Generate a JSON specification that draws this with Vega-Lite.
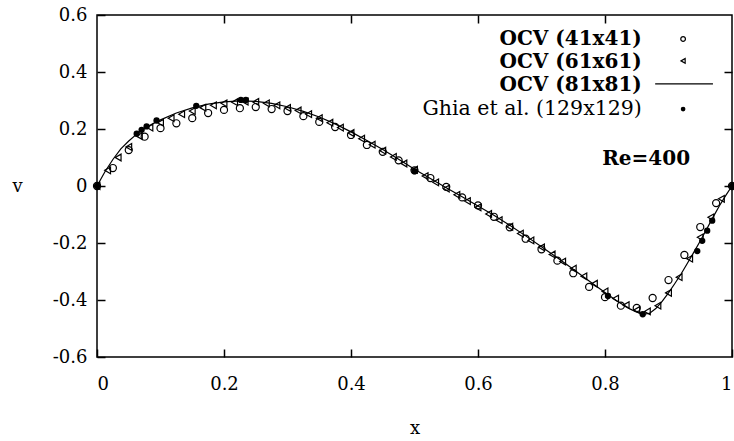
{
  "$schema": "https://vega.github.io/schema/vega-lite/v6.json",
  "width": 635,
  "height": 342,
  "autosize": "none",
  "padding": {"left": 97, "top": 15, "right": 2, "bottom": 84},
  "background": "white",
  "config": {
    "font": "DejaVu Serif",
    "view": {"stroke": "black", "strokeWidth": 1.5},
    "axis": {
      "domain": false,
      "grid": false,
      "labelFont": "DejaVu Serif",
      "labelFontSize": 18,
      "labelColor": "black",
      "titleFont": "DejaVu Serif",
      "titleFontSize": 18,
      "titleFontWeight": "normal",
      "titleColor": "black"
    }
  },
  "datasets": {
    "one": [{"k": 1}],
    "line81": [
      {"x": 0, "v": 0}, {"x": 0.0125, "v": 0.05}, {"x": 0.025, "v": 0.093}, {"x": 0.0375, "v": 0.13},
      {"x": 0.05, "v": 0.158}, {"x": 0.0625, "v": 0.182}, {"x": 0.075, "v": 0.202}, {"x": 0.0875, "v": 0.218},
      {"x": 0.1, "v": 0.232}, {"x": 0.125, "v": 0.256}, {"x": 0.15, "v": 0.274}, {"x": 0.175, "v": 0.287},
      {"x": 0.2, "v": 0.295}, {"x": 0.225, "v": 0.299}, {"x": 0.25, "v": 0.297}, {"x": 0.275, "v": 0.29},
      {"x": 0.3, "v": 0.278}, {"x": 0.325, "v": 0.262}, {"x": 0.35, "v": 0.242}, {"x": 0.375, "v": 0.218},
      {"x": 0.4, "v": 0.19}, {"x": 0.425, "v": 0.16}, {"x": 0.45, "v": 0.128}, {"x": 0.475, "v": 0.094},
      {"x": 0.5, "v": 0.059}, {"x": 0.525, "v": 0.026}, {"x": 0.55, "v": -0.006}, {"x": 0.575, "v": -0.038},
      {"x": 0.6, "v": -0.07}, {"x": 0.625, "v": -0.103}, {"x": 0.65, "v": -0.138}, {"x": 0.675, "v": -0.175},
      {"x": 0.7, "v": -0.213}, {"x": 0.725, "v": -0.252}, {"x": 0.75, "v": -0.292}, {"x": 0.775, "v": -0.333},
      {"x": 0.8, "v": -0.374}, {"x": 0.82, "v": -0.405}, {"x": 0.84, "v": -0.432}, {"x": 0.85, "v": -0.443},
      {"x": 0.86, "v": -0.45}, {"x": 0.87, "v": -0.447}, {"x": 0.88, "v": -0.43}, {"x": 0.89, "v": -0.405},
      {"x": 0.9, "v": -0.375}, {"x": 0.91, "v": -0.342}, {"x": 0.92, "v": -0.308}, {"x": 0.93, "v": -0.27},
      {"x": 0.94, "v": -0.232}, {"x": 0.95, "v": -0.193}, {"x": 0.96, "v": -0.152}, {"x": 0.97, "v": -0.11},
      {"x": 0.98, "v": -0.07}, {"x": 0.99, "v": -0.034}, {"x": 1, "v": 0}
    ],
    "ocv41": [
      {"x": 0, "v": 0}, {"x": 0.025, "v": 0.063}, {"x": 0.05, "v": 0.126}, {"x": 0.075, "v": 0.173},
      {"x": 0.1, "v": 0.203}, {"x": 0.125, "v": 0.22}, {"x": 0.15, "v": 0.238}, {"x": 0.175, "v": 0.256},
      {"x": 0.2, "v": 0.267}, {"x": 0.225, "v": 0.273}, {"x": 0.25, "v": 0.277}, {"x": 0.275, "v": 0.27},
      {"x": 0.3, "v": 0.263}, {"x": 0.325, "v": 0.245}, {"x": 0.35, "v": 0.225}, {"x": 0.375, "v": 0.207},
      {"x": 0.4, "v": 0.179}, {"x": 0.425, "v": 0.144}, {"x": 0.45, "v": 0.12}, {"x": 0.475, "v": 0.09},
      {"x": 0.5, "v": 0.055}, {"x": 0.525, "v": 0.028}, {"x": 0.55, "v": -0.003}, {"x": 0.575, "v": -0.04},
      {"x": 0.6, "v": -0.068}, {"x": 0.625, "v": -0.108}, {"x": 0.65, "v": -0.145}, {"x": 0.675, "v": -0.185},
      {"x": 0.7, "v": -0.222}, {"x": 0.725, "v": -0.262}, {"x": 0.75, "v": -0.306}, {"x": 0.775, "v": -0.354},
      {"x": 0.8, "v": -0.39}, {"x": 0.825, "v": -0.42}, {"x": 0.85, "v": -0.428}, {"x": 0.875, "v": -0.393},
      {"x": 0.9, "v": -0.33}, {"x": 0.925, "v": -0.242}, {"x": 0.95, "v": -0.144}, {"x": 0.975, "v": -0.06},
      {"x": 1, "v": 0}
    ],
    "ocv61": [
      {"x": 0, "v": 0}, {"x": 0.0167, "v": 0.055}, {"x": 0.0333, "v": 0.1}, {"x": 0.05, "v": 0.137},
      {"x": 0.0667, "v": 0.175}, {"x": 0.0833, "v": 0.205}, {"x": 0.1, "v": 0.222}, {"x": 0.1167, "v": 0.238},
      {"x": 0.1333, "v": 0.252}, {"x": 0.15, "v": 0.263}, {"x": 0.1667, "v": 0.275}, {"x": 0.1833, "v": 0.283},
      {"x": 0.2, "v": 0.29}, {"x": 0.2167, "v": 0.294}, {"x": 0.2333, "v": 0.296}, {"x": 0.25, "v": 0.295},
      {"x": 0.2667, "v": 0.29}, {"x": 0.2833, "v": 0.283}, {"x": 0.3, "v": 0.274}, {"x": 0.3167, "v": 0.265},
      {"x": 0.3333, "v": 0.252}, {"x": 0.35, "v": 0.238}, {"x": 0.3667, "v": 0.222}, {"x": 0.3833, "v": 0.205},
      {"x": 0.4, "v": 0.186}, {"x": 0.4167, "v": 0.166}, {"x": 0.4333, "v": 0.145}, {"x": 0.45, "v": 0.124},
      {"x": 0.4667, "v": 0.102}, {"x": 0.4833, "v": 0.079}, {"x": 0.5, "v": 0.057}, {"x": 0.5167, "v": 0.035},
      {"x": 0.5333, "v": 0.013}, {"x": 0.55, "v": -0.009}, {"x": 0.5667, "v": -0.031}, {"x": 0.5833, "v": -0.053},
      {"x": 0.6, "v": -0.075}, {"x": 0.6167, "v": -0.098}, {"x": 0.6333, "v": -0.12}, {"x": 0.65, "v": -0.143},
      {"x": 0.6667, "v": -0.167}, {"x": 0.6833, "v": -0.191}, {"x": 0.7, "v": -0.215}, {"x": 0.7167, "v": -0.24},
      {"x": 0.7333, "v": -0.265}, {"x": 0.75, "v": -0.29}, {"x": 0.7667, "v": -0.317}, {"x": 0.7833, "v": -0.343},
      {"x": 0.8, "v": -0.37}, {"x": 0.8167, "v": -0.395}, {"x": 0.8333, "v": -0.418}, {"x": 0.85, "v": -0.435},
      {"x": 0.8667, "v": -0.44}, {"x": 0.8833, "v": -0.42}, {"x": 0.9, "v": -0.375}, {"x": 0.9167, "v": -0.32},
      {"x": 0.9333, "v": -0.255}, {"x": 0.95, "v": -0.18}, {"x": 0.9667, "v": -0.11}, {"x": 0.9833, "v": -0.045},
      {"x": 1, "v": 0}
    ],
    "ghia": [
      {"x": 0, "v": 0}, {"x": 0.0625, "v": 0.1836}, {"x": 0.0703, "v": 0.1971}, {"x": 0.0781, "v": 0.2092},
      {"x": 0.0938, "v": 0.2297}, {"x": 0.1563, "v": 0.2812}, {"x": 0.2266, "v": 0.302}, {"x": 0.2344, "v": 0.3017},
      {"x": 0.5, "v": 0.0519}, {"x": 0.8047, "v": -0.386}, {"x": 0.8594, "v": -0.4499}, {"x": 0.9453, "v": -0.2285},
      {"x": 0.9531, "v": -0.1925}, {"x": 0.9609, "v": -0.1566}, {"x": 0.9688, "v": -0.1215}, {"x": 1, "v": 0}
    ]
  },
  "resolve": {"axis": {"x": "independent", "y": "independent"}},
  "layer": [
    {
      "data": {"name": "line81"},
      "mark": {"type": "line", "color": "black", "strokeWidth": 1.2},
      "encoding": {
        "x": {
          "field": "x", "type": "quantitative",
          "scale": {"domain": [0, 1], "nice": false, "zero": false},
          "axis": {
            "orient": "bottom", "values": [0, 0.2, 0.4, 0.6, 0.8, 1],
            "ticks": true, "tickSize": 8, "tickColor": "#000", "tickWidth": 1.5, "offset": -8,
            "labelExpr": "format(datum.value, '~g')",
            "labelPadding": 18, "title": "x",
            "titleY": 84, "titleBaseline": "alphabetic"
          }
        },
        "y": {
          "field": "v", "type": "quantitative",
          "scale": {"domain": [-0.6, 0.6], "nice": false, "zero": false},
          "axis": {
            "orient": "left", "values": [-0.6, -0.4, -0.2, 0, 0.2, 0.4, 0.6],
            "ticks": true, "tickSize": 8, "tickColor": "#000", "tickWidth": 1.5, "offset": -8,
            "labelExpr": "datum.value < 0 ? '-' + format(-datum.value, '~g') : format(datum.value, '~g')",
            "labelPadding": 10, "title": "v", "titleAngle": 0,
            "titleX": -88, "titleY": 171, "titleAlign": "center", "titleBaseline": "middle"
          }
        }
      }
    },
    {
      "data": {"name": "ocv41"},
      "mark": {"type": "point", "shape": "circle", "filled": false, "color": "black", "strokeWidth": 1.2, "size": 50, "opacity": 1},
      "encoding": {
        "x": {"field": "x", "type": "quantitative", "axis": {"orient": "top", "values": [0.2, 0.4, 0.6, 0.8], "ticks": true, "tickSize": 8, "tickColor": "#000", "tickWidth": 1.5, "offset": -8, "labels": false, "title": null}},
        "y": {"field": "v", "type": "quantitative", "axis": {"orient": "right", "values": [-0.4, -0.2, 0, 0.2, 0.4], "ticks": true, "tickSize": 8, "tickColor": "#000", "tickWidth": 1.5, "offset": -8, "labels": false, "title": null}}
      }
    },
    {
      "data": {"name": "ocv61"},
      "mark": {"type": "point", "shape": "triangle-left", "filled": false, "color": "black", "strokeWidth": 1.2, "size": 45, "opacity": 1},
      "encoding": {
        "x": {"field": "x", "type": "quantitative", "axis": null},
        "y": {"field": "v", "type": "quantitative", "axis": null}
      }
    },
    {
      "data": {"name": "ghia"},
      "mark": {"type": "point", "shape": "circle", "filled": true, "color": "black", "size": 40, "opacity": 1},
      "encoding": {
        "x": {"field": "x", "type": "quantitative", "axis": null},
        "y": {"field": "v", "type": "quantitative", "axis": null}
      }
    },
    {
      "data": {"name": "one"},
      "mark": {"type": "text", "align": "right", "baseline": "alphabetic", "fontSize": 20, "fontWeight": "bold", "font": "DejaVu Serif", "color": "black"},
      "encoding": {"x": {"datum": 0.858, "type": "quantitative", "axis": null}, "y": {"datum": 0.495, "type": "quantitative", "axis": null}, "text": {"value": "OCV (41x41)"}}
    },
    {
      "data": {"name": "one"},
      "mark": {"type": "text", "align": "right", "baseline": "alphabetic", "fontSize": 20, "fontWeight": "bold", "font": "DejaVu Serif", "color": "black"},
      "encoding": {"x": {"datum": 0.858, "type": "quantitative", "axis": null}, "y": {"datum": 0.414, "type": "quantitative", "axis": null}, "text": {"value": "OCV (61x61)"}}
    },
    {
      "data": {"name": "one"},
      "mark": {"type": "text", "align": "right", "baseline": "alphabetic", "fontSize": 20, "fontWeight": "bold", "font": "DejaVu Serif", "color": "black"},
      "encoding": {"x": {"datum": 0.858, "type": "quantitative", "axis": null}, "y": {"datum": 0.335, "type": "quantitative", "axis": null}, "text": {"value": "OCV (81x81)"}}
    },
    {
      "data": {"name": "one"},
      "mark": {"type": "text", "align": "right", "baseline": "alphabetic", "fontSize": 20.5, "fontWeight": "normal", "font": "DejaVu Serif", "color": "black"},
      "encoding": {"x": {"datum": 0.858, "type": "quantitative", "axis": null}, "y": {"datum": 0.25, "type": "quantitative", "axis": null}, "text": {"value": "Ghia et al. (129x129)"}}
    },
    {
      "data": {"name": "one"},
      "mark": {"type": "text", "align": "right", "baseline": "alphabetic", "fontSize": 20, "fontWeight": "bold", "font": "DejaVu Serif", "color": "black"},
      "encoding": {"x": {"datum": 0.934, "type": "quantitative", "axis": null}, "y": {"datum": 0.074, "type": "quantitative", "axis": null}, "text": {"value": "Re=400"}}
    },
    {
      "data": {"name": "one"},
      "mark": {"type": "point", "shape": "circle", "filled": false, "color": "black", "strokeWidth": 1.2, "size": 22, "opacity": 1},
      "encoding": {"x": {"datum": 0.923, "type": "quantitative", "axis": null}, "y": {"datum": 0.516, "type": "quantitative", "axis": null}}
    },
    {
      "data": {"name": "one"},
      "mark": {"type": "point", "shape": "triangle-left", "filled": false, "color": "black", "strokeWidth": 1.2, "size": 22, "opacity": 1},
      "encoding": {"x": {"datum": 0.923, "type": "quantitative", "axis": null}, "y": {"datum": 0.439, "type": "quantitative", "axis": null}}
    },
    {
      "data": {"name": "one"},
      "mark": {"type": "rule", "color": "black", "strokeWidth": 1.2},
      "encoding": {"x": {"datum": 0.879, "type": "quantitative", "axis": null}, "x2": {"datum": 0.97}, "y": {"datum": 0.358, "type": "quantitative", "axis": null}}
    },
    {
      "data": {"name": "one"},
      "mark": {"type": "point", "shape": "circle", "filled": true, "color": "black", "size": 22, "opacity": 1},
      "encoding": {"x": {"datum": 0.923, "type": "quantitative", "axis": null}, "y": {"datum": 0.27, "type": "quantitative", "axis": null}}
    }
  ]
}
